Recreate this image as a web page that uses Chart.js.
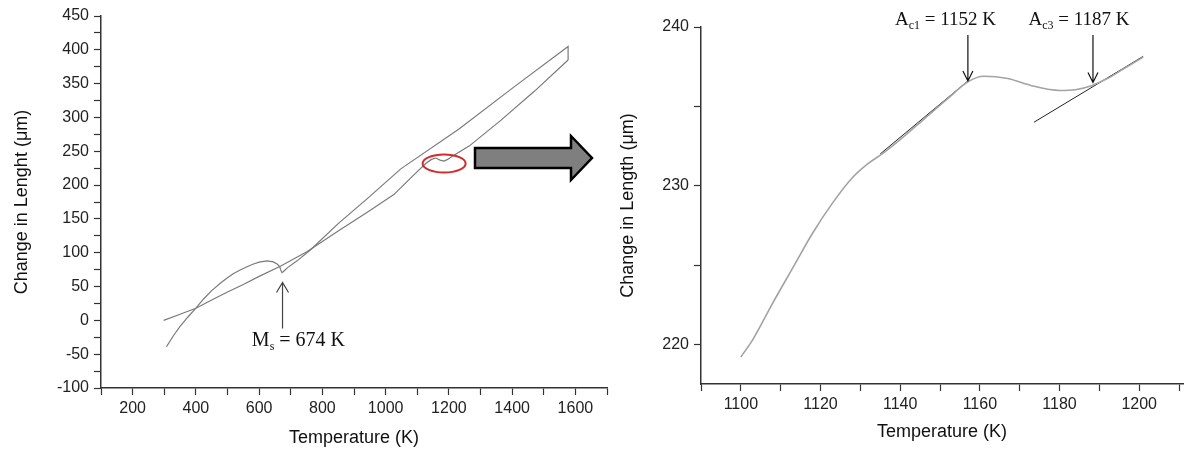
<!DOCTYPE html>
<html>
<head>
<meta charset="utf-8">
<script src="https://cdn.jsdelivr.net/npm/chart.js@4.4.0/dist/chart.umd.min.js"></script>
<style>
  body { margin: 0; background: #fff; }
  #wrap { position: relative; width: 1184px; height: 453px; overflow: hidden; }
  canvas { position: absolute; top: 0; }
  #overview { left: 0; }
  #detail { left: 600px; }
</style>
</head>
<body>
<div id="wrap">
  <canvas id="overview" width="620" height="453"></canvas>
  <canvas id="detail" width="584" height="453"></canvas>
</div>
<script>
// --- full heating / cooling cycle (left)
const heatT  = [298, 350, 400, 450, 500, 550, 600, 667, 751, 850, 942, 1000, 1026, 1074, 1100, 1127, 1145, 1159, 1172, 1185, 1196, 1206, 1265, 1365, 1471, 1577];
const heatDL = [0, 9, 18, 30, 42, 53, 65, 80, 101.5, 132, 160, 178, 186, 208, 220, 232, 238, 240, 237, 235.5, 238, 241, 258, 296, 339, 385];

const coolT  = [1577, 1577, 1400, 1232, 1048, 942, 850, 762, 720, 690, 682, 676, 672, 668, 665, 658, 645, 625, 600, 580, 560, 540, 518, 500, 480, 450, 425, 400, 375, 350, 330, 307];
const coolDL = [385, 405, 343, 283, 224, 180, 143, 104, 88, 78, 74.5, 72, 70.6, 75, 79.5, 83, 86.5, 88, 86, 83, 79, 74.5, 69, 63, 56, 44, 32, 18, 5, -9, -22, -39];

const overviewXTicks  = [100, 200, 300, 400, 500, 600, 700, 800, 900, 1000, 1100, 1200, 1300, 1400, 1500, 1600, 1700];
const overviewXLabels = [200, 400, 600, 800, 1000, 1200, 1400, 1600];
const overviewYTicks  = [-100, -75, -50, -25, 0, 25, 50, 75, 100, 125, 150, 175, 200, 225, 250, 275, 300, 325, 350, 375, 400, 425, 450];
const overviewYLabels = [-100, -50, 0, 50, 100, 150, 200, 250, 300, 350, 400, 450];

// --- zoom on the Ac1..Ac3 range (right)
const detailT  = [1100, 1103, 1108, 1113, 1118, 1123, 1128, 1132, 1136, 1140, 1146, 1152, 1157, 1161, 1167, 1173, 1180, 1184, 1188, 1192, 1196, 1201];
const detailDL = [219.2, 220.3, 222.6, 224.8, 227.0, 228.9, 230.5, 231.4, 232.1, 232.9, 234.2, 235.5, 236.55, 236.9, 236.75, 236.3, 236.0, 236.05, 236.3, 236.75, 237.35, 238.1];

const ac1TangentT  = [1135, 1157];
const ac1TangentDL = [232.0, 236.6];
const ac3TangentT  = [1173.6, 1201];
const ac3TangentDL = [234.0, 238.15];

const detailXTicks  = [1090, 1100, 1110, 1120, 1130, 1140, 1150, 1160, 1170, 1180, 1190, 1200, 1210];
const detailXLabels = [1100, 1120, 1140, 1160, 1180, 1200];
const detailYTicks  = [220, 225, 230, 235, 240];
const detailYLabels = [220, 230, 240];

// annotations (data coordinates)
const msT = 674, msArrow = [-12, 56], msText = { t: 577, v: -37.5 };
const ac1T = 1157, ac1Arrow = [239.5, 236.6], ac1Text = { t: 1138.7, v: 240.1 };
const ac3T = 1188.4, ac3Arrow = [239.5, 236.5], ac3Text = { t: 1172.2, v: 240.1 };
const zoomMark = { t: 1185, v: 232 };

function toPoints(xs, ys) {
    return xs.map(function (x, i) { return { x: x, y: ys[i] }; });
}

function drawArrow(ctx, x, yFrom, yTip, w, h, color) {
    const dir = yFrom > yTip ? 1 : -1;
    ctx.save();
    ctx.strokeStyle = color;
    ctx.lineWidth = 1.2;
    ctx.beginPath();
    ctx.moveTo(x, yFrom);
    ctx.lineTo(x, yTip);
    ctx.moveTo(x - w, yTip + dir * h);
    ctx.lineTo(x, yTip);
    ctx.lineTo(x + w, yTip + dir * h);
    ctx.stroke();
    ctx.restore();
}

function drawSubLabel(ctx, x, y, main, sub, rest, size) {
    ctx.save();
    ctx.fillStyle = '#111';
    ctx.textBaseline = 'alphabetic';
    ctx.textAlign = 'left';
    ctx.font = size + 'px "Liberation Serif"';
    ctx.fillText(main, x, y);
    x += ctx.measureText(main).width;
    ctx.font = Math.round(size * 0.62) + 'px "Liberation Serif"';
    ctx.fillText(sub, x, y + size * 0.2);
    x += ctx.measureText(sub).width;
    ctx.font = size + 'px "Liberation Serif"';
    ctx.fillText(rest, x, y);
    ctx.restore();
}

function axisOptions(min, max, tickList, labelList, fontSize, title, titlePad, fitSize, horizontal) {
    return {
        type: 'linear',
        min: min,
        max: max,
        afterBuildTicks: function (s) { s.ticks = tickList.map(function (v) { return { value: v }; }); },
        afterFit: function (s) { if (horizontal) { s.height = fitSize; } else { s.width = fitSize; } },
        border: { display: true, color: '#333', width: 1.5 },
        grid: { display: true, drawOnChartArea: false, tickLength: 7, tickColor: '#333', tickWidth: 1.2 },
        ticks: {
            autoSkip: false,
            maxRotation: 0,
            padding: horizontal ? 4 : 5,
            color: '#222',
            font: { family: 'Liberation Sans', size: fontSize },
            callback: function (v) { return labelList.indexOf(v) >= 0 ? String(v) : ''; }
        },
        title: {
            display: true,
            text: title,
            color: '#111',
            font: { family: 'Liberation Sans', size: 18 },
            padding: horizontal ? { top: 0, bottom: titlePad } : { top: titlePad, bottom: 0 }
        }
    };
}

const overviewMarks = {
    id: 'overviewMarks',
    afterDatasetsDraw: function (chart) {
        const ctx = chart.ctx, xs = chart.scales.x, ys = chart.scales.y;
        // Ms arrow and label
        drawArrow(ctx, xs.getPixelForValue(msT), ys.getPixelForValue(msArrow[0]), ys.getPixelForValue(msArrow[1]), 6, 10, '#444');
        drawSubLabel(ctx, xs.getPixelForValue(msText.t), ys.getPixelForValue(msText.v), 'M', 's', ' = 674 K', 20);
        // red ellipse round the transformation bump
        ctx.save();
        ctx.strokeStyle = '#d42a2a';
        ctx.lineWidth = 2;
        ctx.beginPath();
        ctx.ellipse(xs.getPixelForValue(zoomMark.t), ys.getPixelForValue(zoomMark.v), 21.5, 9, 0, 0, Math.PI * 2);
        ctx.stroke();
        // block arrow pointing to the zoomed chart
        ctx.fillStyle = '#7f7f7f';
        ctx.strokeStyle = '#000';
        ctx.lineWidth = 2.5;
        ctx.lineJoin = 'miter';
        ctx.beginPath();
        ctx.moveTo(475, 148);
        ctx.lineTo(571, 148);
        ctx.lineTo(571, 136);
        ctx.lineTo(592, 158);
        ctx.lineTo(571, 180);
        ctx.lineTo(571, 168);
        ctx.lineTo(475, 168);
        ctx.closePath();
        ctx.fill();
        ctx.stroke();
        ctx.restore();
    }
};

const detailMarks = {
    id: 'detailMarks',
    afterDatasetsDraw: function (chart) {
        const ctx = chart.ctx, xs = chart.scales.x, ys = chart.scales.y;
        drawArrow(ctx, xs.getPixelForValue(ac1T), ys.getPixelForValue(ac1Arrow[0]), ys.getPixelForValue(ac1Arrow[1]), 5, 10, '#111');
        drawArrow(ctx, xs.getPixelForValue(ac3T), ys.getPixelForValue(ac3Arrow[0]), ys.getPixelForValue(ac3Arrow[1]), 5, 10, '#111');
        drawSubLabel(ctx, xs.getPixelForValue(ac1Text.t), ys.getPixelForValue(ac1Text.v), 'A', 'c1', ' = 1152 K', 19);
        drawSubLabel(ctx, xs.getPixelForValue(ac3Text.t), ys.getPixelForValue(ac3Text.v), 'A', 'c3', ' = 1187 K', 19);
    }
};

new Chart(document.getElementById('overview'), {
    type: 'scatter',
    data: {
        datasets: [
            { label: 'Heating', data: toPoints(heatT, heatDL), showLine: true, borderColor: '#7a7a7a', borderWidth: 1.2, pointRadius: 0, tension: 0 },
            { label: 'Cooling', data: toPoints(coolT, coolDL), showLine: true, borderColor: '#7a7a7a', borderWidth: 1.2, pointRadius: 0, tension: 0 }
        ]
    },
    options: {
        responsive: false,
        animation: false,
        devicePixelRatio: 1,
        layout: { padding: { top: 16, right: 13, bottom: 0, left: 0 } },
        plugins: { legend: { display: false }, tooltip: { enabled: false } },
        scales: {
            x: axisOptions(100, 1700, overviewXTicks, overviewXLabels, 16, 'Temperature (K)', 4, 65, true),
            y: axisOptions(-100, 450, overviewYTicks, overviewYLabels, 16, 'Change in Lenght (\u03bcm)', 11, 101, false)
        }
    },
    plugins: [overviewMarks]
});

new Chart(document.getElementById('detail'), {
    type: 'scatter',
    data: {
        datasets: [
            { label: 'Heating', data: toPoints(detailT, detailDL), showLine: true, borderColor: '#a3a3a3', borderWidth: 1.6, pointRadius: 0, cubicInterpolationMode: 'monotone' },
            { label: 'Ac1 tangent', data: toPoints(ac1TangentT, ac1TangentDL), showLine: true, borderColor: '#222', borderWidth: 1, pointRadius: 0 },
            { label: 'Ac3 tangent', data: toPoints(ac3TangentT, ac3TangentDL), showLine: true, borderColor: '#222', borderWidth: 1, pointRadius: 0 }
        ]
    },
    options: {
        responsive: false,
        animation: false,
        devicePixelRatio: 1,
        layout: { padding: { top: 27, right: 1, bottom: 0, left: 0 } },
        plugins: { legend: { display: false }, tooltip: { enabled: false } },
        scales: {
            x: axisOptions(1090, 1211, detailXTicks, detailXLabels, 16, 'Temperature (K)', 10, 69, true),
            y: axisOptions(217.5, 240, detailYTicks, detailYLabels, 16, 'Change in Length (\u03bcm)', 17, 101, false)
        }
    },
    plugins: [detailMarks]
});
</script>
</body>
</html>
